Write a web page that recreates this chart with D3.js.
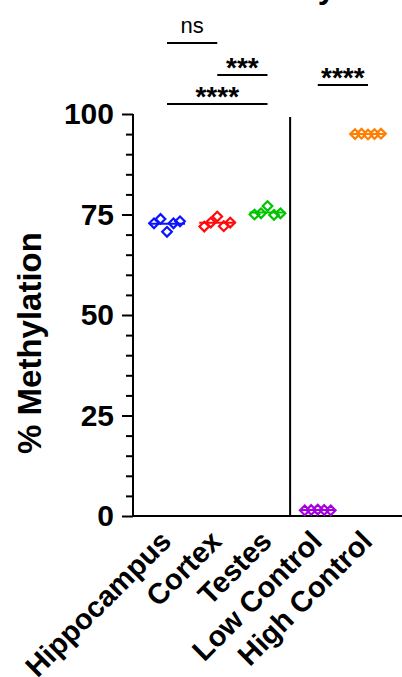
<!DOCTYPE html>
<html>
<head>
<meta charset="utf-8">
<script src="https://cdn.jsdelivr.net/npm/d3@7"></script>
<style>
  body { margin: 0; background: #fff; }
  text { font-family: "Liberation Sans", Arial, sans-serif; }
</style>
</head>
<body>
<svg id="chart" width="402" height="677"></svg>
<script>
// groups on the x axis
var categories = ["Hippocampus", "Cortex", "Testes", "Low Control", "High Control"];
var groupColors = ["#0a14ff", "#ff0a0a", "#00c400", "#a600e0", "#ff8000"];

// % methylation, 5 replicates per group (left to right as plotted)
var hippocampus = [72.8, 73.9, 70.7, 72.8, 73.3];
var cortex = [72.0, 73.0, 74.5, 72.1, 73.0];
var testes = [75.0, 75.3, 77.1, 74.9, 75.3];
var lowControl = [1.4, 1.5, 1.6, 1.5, 1.4];
var highControl = [95.0, 95.1, 94.9, 95.0, 95.1];
var groupValues = [hippocampus, cortex, testes, lowControl, highControl];

var yTicks = [0, 25, 50, 75, 100];

// significance comparisons
var compFrom = ["Hippocampus", "Cortex", "Hippocampus", "Low Control"];
var compTo = ["Cortex", "Testes", "Testes", "High Control"];
var compLabels = ["ns", "***", "****", "****"];

var svg = d3.select('#chart');
var margin = { top: 114, left: 133, bottom: 161 };
var height = 677 - margin.top - margin.bottom;

var y = d3.scaleLinear().domain([0, 100]).range([margin.top + height, margin.top]);
var x = d3.scalePoint().domain(categories).range([margin.left + 34, margin.left + 235]);
var step = x.step();

// title (mostly out of view, as in the original)
svg.append("text")
  .attr("x", 243).attr("y", -2)
  .attr("font-size", "32px").attr("font-weight", "700")
  .text("Methylation");

// y axis
svg.append("g")
  .attr("transform", "translate(" + margin.left + ",0)")
  .call(d3.axisLeft(y).tickValues(yTicks).tickSize(11).tickPadding(8))
  .call(g => g.select(".domain").attr("stroke-width", 2).attr("d", "M0," + y(100) + "V" + (y(0) + 1)))
  .call(g => g.selectAll(".tick line").attr("stroke-width", 2))
  .call(g => g.selectAll(".tick text")
    .attr("font-size", "30px").attr("font-weight", "700")
    .attr("font-family", "Liberation Sans, Arial, sans-serif")
    .attr("fill", "#000"));

// minor ticks
svg.append("g")
  .attr("transform", "translate(" + margin.left + ",0)")
  .call(d3.axisLeft(y).tickValues(d3.range(5, 100, 5).filter(v => v % 25 != 0)).tickSize(7).tickFormat(""))
  .call(g => g.select(".domain").remove())
  .call(g => g.selectAll(".tick line").attr("stroke-width", 2));

// x axis baseline
svg.append("line")
  .attr("x1", margin.left - 1).attr("x2", 402)
  .attr("y1", y(0)).attr("y2", y(0))
  .attr("stroke", "#000").attr("stroke-width", 2);

// separator between samples and controls
var sepX = x("Testes") + step * 0.45;
svg.append("line")
  .attr("x1", sepX).attr("x2", sepX)
  .attr("y1", y(100) + 3).attr("y2", y(0))
  .attr("stroke", "#000").attr("stroke-width", 2);

// x labels
svg.selectAll(".xlab")
  .data(categories)
  .enter().append("text")
  .attr("class", "xlab")
  .attr("transform", d => "translate(" + (x(d) + 6) + "," + (y(0) + 27) + ") rotate(-45)")
  .attr("text-anchor", "end")
  .attr("font-size", "29px").attr("font-weight", "700")
  .text(d => d);

// y label
svg.append("text")
  .attr("transform", "translate(41," + 343 + ") rotate(-90)")
  .attr("text-anchor", "middle")
  .attr("font-size", "33px").attr("font-weight", "700")
  .text("% Methylation");

// mean lines
svg.selectAll(".mean")
  .data(categories)
  .enter().append("line")
  .attr("class", "mean")
  .attr("x1", d => x(d) - 18).attr("x2", d => x(d) + 18)
  .attr("y1", (d, i) => y(d3.mean(groupValues[i])))
  .attr("y2", (d, i) => y(d3.mean(groupValues[i])))
  .attr("stroke", (d, i) => groupColors[i])
  .attr("stroke-width", 2);

// points
var r = 4.8;
var diamond = "M0," + (-r) + "L" + r + ",0L0," + r + "L" + (-r) + ",0Z";
categories.forEach(function(cat, gi) {
  svg.append("g").selectAll("path")
    .data(groupValues[gi])
    .enter().append("path")
    .attr("d", diamond)
    .attr("transform", (v, i) => "translate(" + (x(cat) + (i - 2) * 6.5) + "," + y(v) + ")")
    .attr("fill", "none")
    .attr("stroke", groupColors[gi])
    .attr("stroke-width", 2.2);
});

// significance brackets
var bracketY = [43, 75, 104, 85];
compLabels.forEach(function(lab, i) {
  var x1 = x(compFrom[i]), x2 = x(compTo[i]);
  svg.append("line")
    .attr("x1", x1).attr("x2", x2)
    .attr("y1", bracketY[i]).attr("y2", bracketY[i])
    .attr("stroke", "#000").attr("stroke-width", 2);
  var t = svg.append("text")
    .attr("x", (x1 + x2) / 2)
    .attr("text-anchor", "middle")
    .text(lab);
  if (lab == "ns") {
    t.attr("y", bracketY[i] - 10).attr("font-size", "22px");
  } else {
    t.attr("y", bracketY[i] + 2).attr("font-size", "28px").attr("font-weight", "700");
  }
});
</script>
</body>
</html>
